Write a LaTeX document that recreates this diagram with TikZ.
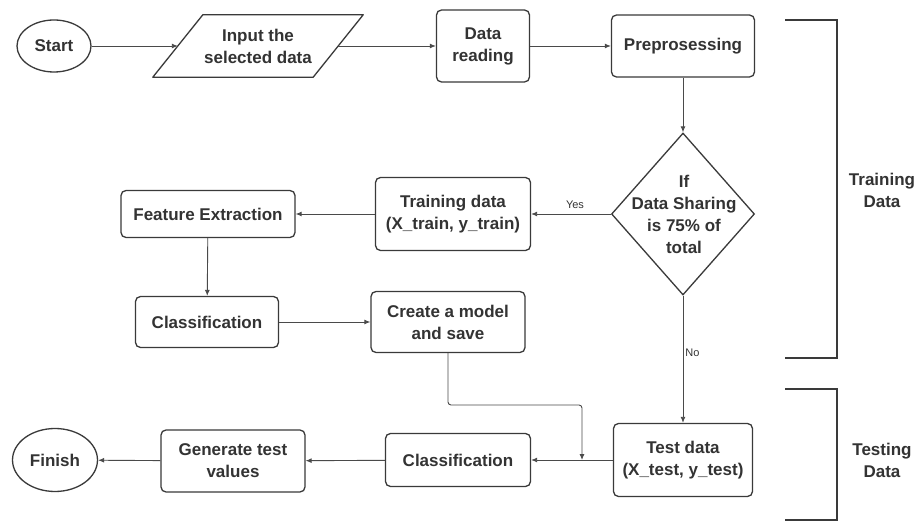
\documentclass[tikz,border=0pt]{standalone}
\usepackage{fontspec}
\setmainfont{Liberation Sans}
\usetikzlibrary{arrows.meta,shapes.geometric,calc}
\definecolor{ink}{HTML}{333333}
\definecolor{edge}{HTML}{3A3A3A}
\definecolor{conn}{HTML}{4A4A4A}
\begin{document}
\begin{tikzpicture}[x=1pt,y=-1pt,
  every node/.style={font=\fontsize{17}{22}\selectfont\bfseries, text=ink, align=center, inner sep=0pt},
  pbox/.style={draw=edge, line width=1.3pt, rounded corners=5pt, fill=white},
  term/.style={draw=edge, line width=1.3pt, ellipse, fill=white},
  flow/.style={draw=conn, line width=0.9pt, -{Latex[length=6pt,width=5pt]}},
  small/.style={font=\fontsize{11}{13}\selectfont, text=ink},
  brack/.style={draw=edge, line width=1.8pt}
]
\useasboundingbox (0,0) rectangle (919,521);
\fill[white] (0,0) rectangle (919,521);

% nodes
\node[term, minimum width=74pt, minimum height=52pt] (start) at (54,46) {Start};
\node[minimum width=160pt, minimum height=62pt] (inp) at (258,46) {};
\draw[draw=edge, line width=1.3pt, line join=round, fill=white]
  ([xshift=25pt]inp.north west) -- ([xshift=25pt]inp.north east)
  -- ([xshift=-25pt]inp.south east) -- ([xshift=-25pt]inp.south west) -- cycle;
\node at (inp.center) {Input the\\selected data};
\node[pbox, minimum width=93pt, minimum height=72pt] (read) at (483,46) {Data\\reading};
\node[pbox, minimum width=143pt, minimum height=62pt] (pre) at (683,46) {Preprosessing};
\node[diamond, draw=edge, line width=1.3pt, fill=white, minimum width=143pt, minimum height=162pt] (dec) at (683,214) {};
\node at (684,214) {If\\Data Sharing\\is 75\% of\\total};
\node[pbox, minimum width=155pt, minimum height=73pt] (train) at (453,214) {Training data\\(X\_train, y\_train)};
\node[pbox, minimum width=174pt, minimum height=47pt] (feat) at (208,214) {Feature Extraction};
\node[pbox, minimum width=143pt, minimum height=51pt] (cls1) at (207,322) {Classification};
\node[pbox, minimum width=154pt, minimum height=61pt] (model) at (448,322) {Create a model\\and save};
\node[pbox, minimum width=139pt, minimum height=73pt] (test) at (683,460) {Test data\\(X\_test, y\_test)};
\node[pbox, minimum width=145pt, minimum height=53pt] (cls2) at (458,460) {Classification};
\node[pbox, minimum width=144pt, minimum height=62pt] (gen) at (233,461) {Generate test\\values};
\node[term, minimum width=85pt, minimum height=63pt] (fin) at (55,460) {Finish};
\coordinate (j) at (582,460);

% connectors
\draw[flow] (start) -- (inp);
\draw[flow] (inp) -- (read);
\draw[flow] (read) -- (pre);
\draw[flow] (pre) -- (dec);
\draw[flow] (dec.west) -- node[small, above=5pt, pos=0.45] {Yes} (train.east);
\draw[flow] (train) -- (feat);
\draw[flow] (feat) -- (cls1);
\draw[flow] (cls1) -- (model);
\draw[flow] (dec.south) -- node[small, right=2pt, pos=0.45] {No} (test.north);
\draw[flow] (test) -- (cls2);
\draw[flow, rounded corners=3pt] (model.south) -- (model.south |- 0,405) -- (j |- 0,405) -- (j);
\draw[flow] (cls2) -- (gen);
\draw[flow] (gen) -- (fin);

% brackets
\draw[brack] (785,20) -- (837,20) -- (837,358) -- (785,358);
\node (trl) at (882,190) {Training\\Data};
\draw[brack] (785,389) -- (837,389) -- (837,520) -- (785,520);
\node (tel) at (882,460) {Testing\\Data};
\end{tikzpicture}
\end{document}
